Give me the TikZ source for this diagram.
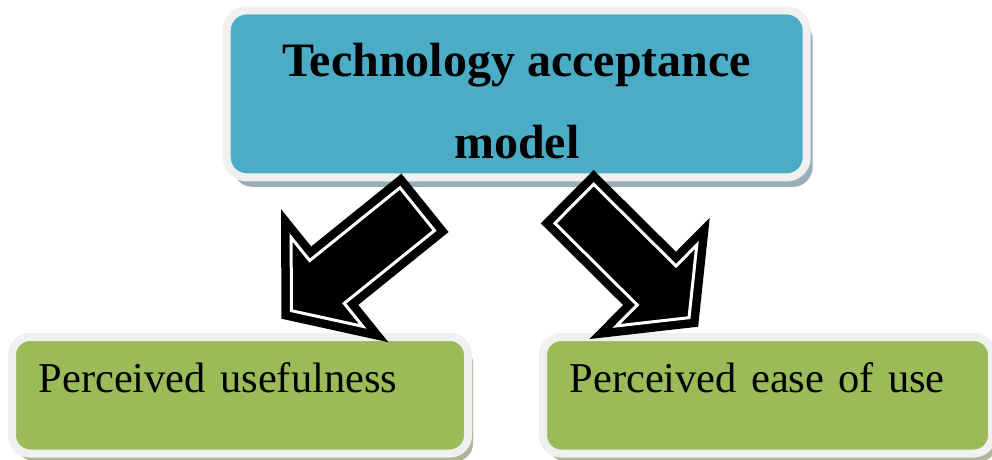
\documentclass[tikz,border=0pt]{standalone}
\usepackage{fontspec}
\setmainfont{Liberation Serif}
\usepackage{tikz}
\usetikzlibrary{shadows}

\definecolor{tamblue}{HTML}{4BACC6}
\definecolor{tamgreen}{HTML}{9BBB59}
\definecolor{tamrim}{HTML}{F0F0F0}
\definecolor{blueshade}{HTML}{9AAEB8}
\definecolor{greenshade}{HTML}{AEB59C}

\begin{document}
\begin{tikzpicture}[
        x=1pt, y=1pt,
        model/.style={
            draw=tamrim,
            line width=8pt,
            rectangle,
            rounded corners=20pt,
            align=center,
            fill=tamblue,
            minimum width=580pt,
            minimum height=167pt,
            text height=128.8pt,
            text depth=0pt,
            font=\fontsize{48}{82.3}\selectfont\bfseries,
            drop shadow={shadow xshift=6pt, shadow yshift=-9.5pt, fill=blueshade, opacity=1}
        },
        factor/.style={
            draw=tamrim,
            line width=8pt,
            rectangle,
            rounded corners=18pt,
            align=left,
            fill=tamgreen,
            minimum height=116.5pt,
            inner xsep=26.5pt,
            text height=29pt,
            text depth=35.5pt,
            font=\fontsize{42.5}{51}\selectfont,
            drop shadow={shadow xshift=5pt, shadow yshift=-8pt, fill=greenshade, opacity=1}
        },
        blockarrow/.style={
            fill=black,
            draw=black,
            line width=8.5pt,
            double=white,
            double distance=3pt,
            line join=miter
        }
    ]
        \useasboundingbox (0,0) rectangle (992,459);

        \node[model] (tam) at (516.7,365.1) {Technology acceptance\\model};

        \node[factor, text width=403pt] (useful) at (240,63.75) {Perceived usefulness};
        \node[factor, text width=396pt] (ease) at (767.5,63.75) {Perceived ease of use};

        % Block arrows, drawn over the box rims
        \coordinate (usetail) at (425,256.15);
        \coordinate (easetail) at (567.2,262.3);

        \begin{scope}[shift={(usetail)}, rotate=218.9]
            \filldraw[blockarrow] (10,27.5) -- (126,27.5) -- (126,57) -- (171.7,0)
                -- (126,-57) -- (126,-27.5) -- (10,-27.5) -- cycle;
        \end{scope}

        \begin{scope}[shift={(easetail)}, rotate=-44.8]
            \filldraw[blockarrow] (10,27.5) -- (126,27.5) -- (126,57) -- (171.7,0)
                -- (126,-57) -- (126,-27.5) -- (10,-27.5) -- cycle;
        \end{scope}

    \end{tikzpicture}
\end{document}
